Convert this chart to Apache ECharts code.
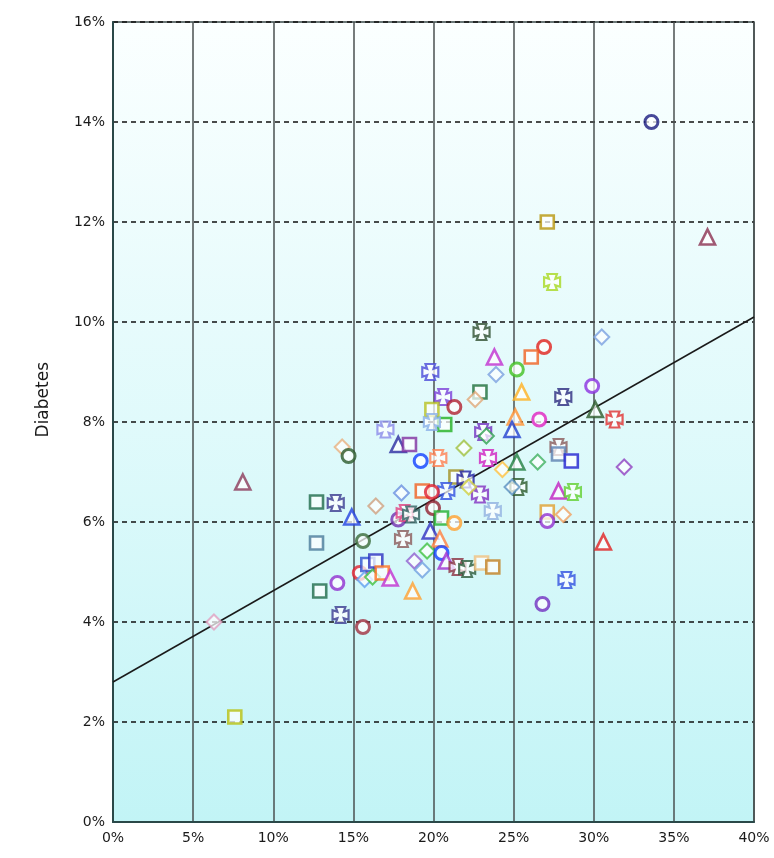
<!DOCTYPE html>
<html>
<head>
<meta charset="utf-8">
<script src="https://cdn.jsdelivr.net/npm/echarts@6/dist/echarts.min.js"></script>
<style>
html,body{margin:0;padding:0;background:#fff;}
#chart{width:774px;height:858px;}
</style>
</head>
<body>
<div id="chart"></div>
<script>
// ---- data (x = % , y = Diabetes %) ----
var xTicks = [0, 5, 10, 15, 20, 25, 30, 35, 40];
var yTicks = [0, 2, 4, 6, 8, 10, 12, 14, 16];
var yAxisTitle = 'Diabetes';

var pointX = [33.6,27.1,37.1,27.4,30.5,23.0,26.9,23.8,26.1,25.2,23.9,19.8,22.9,22.6,25.5,29.9,28.1,20.6,21.3,19.9,
  20.7,19.9,30.1,31.3,25.1,26.6,24.9,23.1,23.3,17.0,14.3,14.7,17.8,18.5,19.2,20.3,21.9,23.4,27.8,27.8,
  28.6,26.5,31.9,24.3,25.2,25.3,24.9,21.4,22.0,20.8,22.9,23.7,22.2,27.8,28.7,27.1,27.1,28.1,30.6,28.3,
  26.8,8.1,12.7,13.9,14.9,16.4,18.0,19.3,19.9,17.8,18.2,18.6,19.97,20.5,21.3,19.8,12.7,15.6,18.1,20.4,
  19.6,20.5,20.8,21.5,22.1,23.0,23.7,18.8,19.3,12.9,14.0,15.4,15.9,16.4,15.7,16.2,16.8,17.3,18.7,14.2,
  15.6,6.3,7.6];
var pointY = [14.0,12.0,11.7,10.8,9.7,9.8,9.5,9.3,9.3,9.05,8.95,9.0,8.6,8.45,8.6,8.72,8.5,8.5,8.3,8.25,
  7.95,8.0,8.25,8.05,8.1,8.05,7.85,7.8,7.72,7.85,7.5,7.32,7.55,7.55,7.22,7.28,7.48,7.28,7.5,7.36,
  7.22,7.2,7.1,7.05,7.2,6.7,6.7,6.9,6.85,6.62,6.55,6.22,6.7,6.62,6.6,6.2,6.02,6.15,5.6,4.84,
  4.36,6.8,6.4,6.38,6.1,6.32,6.58,6.62,6.6,6.05,6.18,6.15,6.28,6.08,5.98,5.82,5.58,5.62,5.66,5.66,
  5.42,5.38,5.22,5.1,5.06,5.18,5.1,5.22,5.04,4.62,4.78,4.98,5.15,5.22,4.85,4.9,4.98,4.88,4.62,4.14,
  3.9,4.0,2.1];

// trend line end points
var trendX = [0, 40];
var trendY = [2.8, 10.1];

// ---- marker styles (kept apart from the data) ----
var crossPath = 'path://M2,0 L8,0 L7,3 L10,2 L10,8 L7,7 L8,10 L2,10 L3,7 L0,8 L0,2 L3,3 Z';
var pointShape = ['circle','rect','triangle','cross','diamond','cross','circle','triangle','rect','circle',
  'diamond','cross','rect','diamond','triangle','circle','cross','cross','circle','rect',
  'rect','cross','triangle','cross','triangle','circle','triangle','cross','diamond','cross',
  'diamond','circle','triangle','rect','circle','cross','diamond','cross','cross','rect',
  'rect','diamond','diamond','diamond','triangle','cross','diamond','rect','cross','cross',
  'cross','cross','diamond','triangle','cross','rect','circle','diamond','triangle','cross',
  'circle','triangle','rect','cross','triangle','diamond','diamond','rect','circle','circle',
  'cross','cross','circle','rect','circle','triangle','rect','circle','cross','triangle',
  'diamond','circle','triangle','cross','cross','rect','rect','diamond','diamond','rect',
  'circle','circle','rect','rect','diamond','diamond','rect','triangle','triangle','cross',
  'circle','diamond','rect'];
var pointColor = ['#1a1a80','#b8960c','#8b3050','#a8d820','#7aa0e0','#2f4f2f','#e0201b','#c030d0','#f06020','#40c020',
  '#7aa0e0','#4a4ad8','#1e6e3a','#e0a878','#ffb020','#8a30e0','#2a2a80','#7a40d8','#b02030','#b8c020',
  '#20b020','#8ab0e8','#2a5a2a','#e03030','#ff9030','#e020c0','#2040d0','#7030c0','#30a050','#8a8ae8',
  '#e8b080','#2a5a2a','#2a2aa0','#8030a0','#1040ff','#ff8050','#a0c040','#d020c0','#8a5a5a','#5a80b0',
  '#2020d0','#40b060','#9040c0','#ffc040','#208040','#2a5a2a','#5a90c0','#a09020','#2020a0','#3050e0',
  '#8030c0','#90b0e0','#d0d040','#c020c0','#60d030','#e0a030','#9030d0','#f0a060','#e02020','#3050e0',
  '#7030c0','#8b3a5a','#1e6a4a','#3a3a90','#2040e0','#d0a080','#6a90e0','#f06020','#e02030','#7030b0',
  '#e04080','#306060','#902030','#20b030','#ffa030','#3030c0','#4a7a9a','#3a6a3a','#8a5a5a','#ff8040',
  '#40c040','#1040ff','#a030d0','#8a3040','#2a5a3a','#f0c080','#c08020','#9060d0','#70a0e0','#1e6a4a',
  '#9030d0','#e02030','#3050d0','#2a30c0','#60a0f0','#40c040','#ff7020','#c030d0','#ffa030','#3a3a90',
  '#a03040','#e0a0c0','#b8c010'];

var symbolMap = {circle:'circle', rect:'rect', triangle:'triangle', diamond:'diamond', cross: crossPath};
var sizeMap = {circle: 13, rect: 13, triangle: 15, diamond: 15, cross: 16};
var widthMap = {circle: 3, rect: 2.6, triangle: 2.6, diamond: 2, cross: 2.2};

var scatterData = pointX.map(function (x, i) {
  var s = pointShape[i];
  return {
    value: [x, pointY[i]],
    symbol: symbolMap[s],
    symbolSize: sizeMap[s],
    itemStyle: { color: 'rgba(255,255,255,0.9)', borderColor: pointColor[i], borderWidth: widthMap[s] }
  };
});
var trendData = trendX.map(function (x, i) { return [x, trendY[i]]; });

var labelFont = { fontFamily: 'DejaVu Sans', fontSize: 14, color: '#1a1a1a' };

var chart = echarts.init(document.getElementById('chart'), null, { renderer: 'canvas' });
chart.setOption({
  animation: false,
  backgroundColor: '#ffffff',
  grid: {
    left: 113, right: 20, top: 22, bottom: 36,
    show: true,
    borderColor: '#3a4a4a',
    borderWidth: 1.5,
    backgroundColor: {
      type: 'linear', x: 0, y: 0, x2: 0, y2: 1,
      colorStops: [
        { offset: 0, color: '#fbffff' },
        { offset: 0.5, color: '#e0fafb' },
        { offset: 1, color: '#c2f4f6' }
      ]
    }
  },
  graphic: [{
    type: 'text',
    left: 35, top: 362,
    rotation: Math.PI / 2,
    style: { text: yAxisTitle, font: '17px "DejaVu Sans"', fill: '#1a1a1a' }
  }],
  xAxis: {
    type: 'value',
    min: xTicks[0], max: xTicks[xTicks.length - 1], interval: 5,
    axisLine: { show: true, lineStyle: { color: '#2a4848', width: 2 } },
    axisTick: { show: false },
    axisLabel: Object.assign({ formatter: '{value}%', margin: 9 }, labelFont),
    splitLine: { show: true, lineStyle: { color: '#4a5050', width: 1.5, type: 'solid' } }
  },
  yAxis: {
    type: 'value',
    min: yTicks[0], max: yTicks[yTicks.length - 1], interval: 2,
    axisLine: { show: true, lineStyle: { color: '#2a4848', width: 2 } },
    axisTick: { show: false },
    axisLabel: Object.assign({ formatter: '{value}%', margin: 8 }, labelFont),
    splitLine: { show: true, lineStyle: { color: '#111', width: 1.5, type: [5, 4] } }
  },
  series: [
    {
      type: 'line',
      data: trendData,
      symbol: 'none',
      lineStyle: { color: '#1a1a1a', width: 1.5 },
      z: 3
    },
    {
      type: 'scatter',
      data: scatterData,
      z: 4
    }
  ]
});
</script>
</body>
</html>
